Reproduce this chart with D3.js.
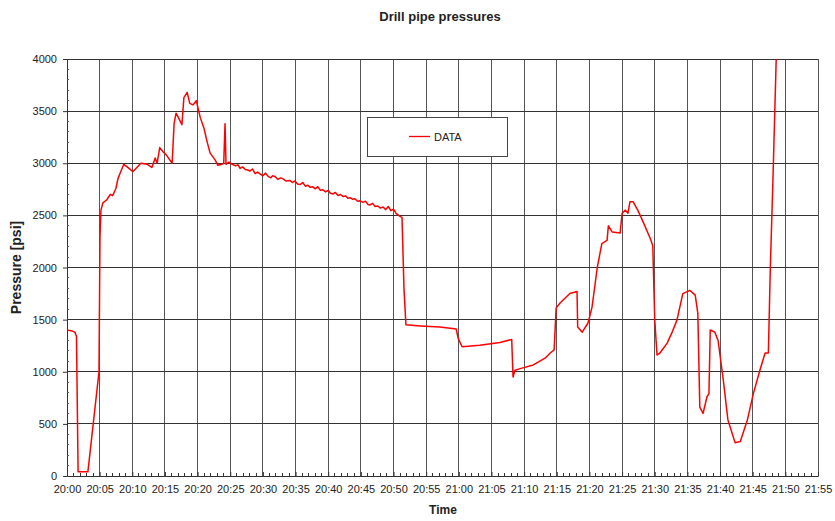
<!DOCTYPE html>
<html>
<head>
<meta charset="utf-8">
<script src="https://cdn.jsdelivr.net/npm/d3@7"></script>
<style>
  body { margin: 0; background: #fff; }
  text { font-family: "Liberation Sans", Arial, sans-serif; fill: #222; }
  .grid-line { stroke: #555; stroke-width: 1; shape-rendering: crispEdges; }
  .grid-h { stroke: #333; }
  .tick-label { font-size: 11px; }
</style>
</head>
<body>
<div id="chart"></div>
<script>
// minutes after 20:00
const minutes = [
  0, 0.8, 1.2, 1.45, 1.7, 3.2, 4.9, 5.05, 5.2, 5.5, 6.1, 6.6, 7.0, 7.5, 7.8, 8.1, 8.7, 9.3, 10.1, 10.7,
  11.3, 12.3, 13.0, 13.5, 13.8, 14.2, 14.7, 15.2, 16.1, 16.4, 16.7, 17.2, 17.6, 17.9, 18.4, 18.8, 19.3, 19.8, 20.1, 20.4,
  21.0, 21.4, 21.9, 22.7, 23.1, 23.7, 24.0, 24.2, 24.35, 24.8, 25.3, 25.8, 26.2, 26.5, 26.9, 27.3, 27.7, 28.0, 28.4, 28.8,
  29.2, 29.6, 30.0, 30.4, 30.8, 31.2, 31.5, 31.9, 32.3, 32.7, 33.1, 33.5, 34.1, 34.5, 34.9, 35.3, 35.7, 36.1, 36.5, 36.9,
  37.2, 37.6, 38.0, 38.4, 38.8, 39.2, 39.6, 40.0, 40.3, 40.7, 41.1, 41.5, 41.9, 42.3, 42.7, 43.0, 43.3, 43.7, 44.1, 44.5,
  44.9, 45.3, 45.7, 46.1, 46.4, 46.8, 47.2, 47.6, 48.0, 48.4, 48.8, 49.2, 49.6, 50.0, 50.4, 51.0, 51.3, 51.6, 51.9, 54.1,
  57.1, 59.6, 59.9, 60.5, 63.2, 66.3, 68.1, 68.3, 68.6, 69.4, 71.4, 73.2, 74.0, 74.6, 74.9, 75.5, 77.0, 78.1, 78.2, 78.9,
  79.8, 80.4, 81.2, 81.9, 82.7, 82.9, 83.5, 84.7, 85.0, 85.5, 85.9, 86.2, 86.7, 87.4, 88.2, 89.3, 89.7, 90.0, 90.35, 90.8,
  91.9, 92.6, 93.4, 94.3, 95.4, 96.2, 96.6, 96.9, 97.4, 98.0, 98.3, 98.5, 99.2, 99.7, 100.5, 101.2, 102.3, 103.1, 104.2, 105.1,
  106.1, 106.9, 107.4, 107.7, 108.1, 108.6
];
const pressure = [
  1400, 1390, 1380, 1340, 40, 40, 1000, 2300, 2550, 2620, 2650, 2700, 2690, 2760, 2850, 2900, 2990, 2960, 2920, 2960,
  3000, 2990, 2960, 3050, 3000, 3150, 3110, 3080, 3000, 3380, 3480, 3420, 3370, 3630, 3680, 3575, 3560, 3600, 3520, 3440,
  3330, 3220, 3100, 3030, 2980, 2990, 3000, 3380, 2990, 3010, 2990, 2975, 2985, 2950, 2965, 2940, 2935, 2925, 2945, 2900,
  2915, 2895, 2880, 2905, 2875, 2860, 2880, 2870, 2845, 2860, 2850, 2830, 2835, 2815, 2830, 2800, 2795, 2815, 2780, 2790,
  2770, 2775, 2755, 2775, 2740, 2745, 2725, 2740, 2715, 2705, 2720, 2690, 2700, 2680, 2685, 2665, 2670, 2655, 2660, 2635,
  2640, 2625, 2635, 2605, 2600, 2615, 2585, 2590, 2570, 2580, 2555, 2585, 2545, 2560, 2520, 2490, 2480, 1800, 1450, 1440,
  1430, 1410, 1320, 1240, 1255, 1280, 1310, 950, 1015, 1030, 1065, 1130, 1180, 1210, 1610, 1660, 1750, 1770, 1430, 1380,
  1470, 1620, 2000, 2230, 2260, 2400, 2340, 2330, 2520, 2550, 2520, 2630, 2630, 2550, 2440, 2280, 2210, 1500, 1160, 1180,
  1275, 1370, 1495, 1750, 1780, 1735, 1560, 660, 600, 760, 790, 1400, 1380, 1300, 920, 540, 320, 330, 540, 790,
  1015, 1180, 1180, 2000, 2840, 4000
];
const timeTicks = [
  '20:00', '20:05', '20:10', '20:15', '20:20', '20:25', '20:30', '20:35', '20:40', '20:45', '20:50', '20:55',
  '21:00', '21:05', '21:10', '21:15', '21:20', '21:25', '21:30', '21:35', '21:40', '21:45', '21:50', '21:55'
];
const pressureTicks = [0, 500, 1000, 1500, 2000, 2500, 3000, 3500, 4000];

const W = 835, H = 521;
const margin = { top: 59, right: 17, bottom: 45, left: 67 };
const width = W - margin.left - margin.right,
  height = H - margin.top - margin.bottom;

const svg = d3.select('#chart').append('svg')
  .attr('width', W)
  .attr('height', H);

const g = svg.append('g')
  .attr('transform', 'translate(' + margin.left + ',' + margin.top + ')');

const x = d3.scaleLinear().domain([0, 115]).range([0, width]);
const y = d3.scaleLinear().domain([0, 4000]).range([height, 0]);

const tickMinutes = timeTicks.map((d, i) => i * 5);

// plot border
g.append('rect')
  .attr('width', width).attr('height', height)
  .attr('fill', 'none').attr('stroke', '#bbb')
  .attr('shape-rendering', 'crispEdges');

// grid
g.append('g').selectAll('line')
  .data(tickMinutes.slice(1))
  .enter().append('line')
  .attr('class', 'grid-line')
  .attr('x1', d => x(d)).attr('x2', d => x(d))
  .attr('y1', 0).attr('y2', height);

g.append('g').selectAll('line')
  .data(pressureTicks.slice(1))
  .enter().append('line')
  .attr('class', 'grid-line grid-h')
  .attr('x1', 0).attr('x2', width)
  .attr('y1', d => y(d)).attr('y2', d => y(d));

// axes
const xAxis = d3.axisBottom(x)
  .tickValues(tickMinutes)
  .tickFormat((d, i) => timeTicks[i])
  .tickSizeInner(-4).tickSizeOuter(0).tickPadding(9);

const xAxisG = g.append('g')
  .attr('transform', 'translate(0,' + height + ')')
  .call(xAxis);
xAxisG.selectAll('text').attr('class', 'tick-label');

g.append('g')
  .attr('transform', 'translate(0,' + height + ')')
  .selectAll('line')
  .data(d3.range(0, 116).filter(d => d % 5 !== 0))
  .enter().append('line')
  .attr('x1', d => x(d)).attr('x2', d => x(d))
  .attr('y1', 0).attr('y2', -3)
  .attr('stroke', '#333')
  .attr('shape-rendering', 'crispEdges');

const yAxis = d3.axisLeft(y)
  .tickValues(pressureTicks)
  .tickFormat(d3.format('d'))
  .tickSizeInner(4).tickSizeOuter(0).tickPadding(6);

const yAxisG = g.append('g').call(yAxis);
yAxisG.selectAll('text').attr('class', 'tick-label');

g.append('g').selectAll('line')
  .data(d3.range(0, 4001, 100).filter(d => d % 500 !== 0))
  .enter().append('line')
  .attr('x1', 0).attr('x2', 2)
  .attr('y1', d => y(d)).attr('y2', d => y(d))
  .attr('stroke', '#555')
  .attr('shape-rendering', 'crispEdges');

g.selectAll('.domain').attr('stroke', '#333');
g.selectAll('.tick line').attr('stroke', '#333');

// data line
const points = minutes.map((m, i) => ({ m: m, p: pressure[i] }));
const line = d3.line()
  .x(d => x(d.m))
  .y(d => y(d.p));

g.append('path')
  .datum(points)
  .attr('d', line)
  .attr('fill', 'none')
  .attr('stroke', '#ff0000')
  .attr('stroke-width', 1.5)
  .attr('stroke-linejoin', 'round');

// legend
const legend = svg.append('g').attr('transform', 'translate(367,117)');
legend.append('rect')
  .attr('width', 140).attr('height', 39)
  .attr('fill', '#fff').attr('stroke', '#444')
  .attr('shape-rendering', 'crispEdges');
legend.append('line')
  .attr('x1', 42).attr('x2', 63)
  .attr('y1', 19.5).attr('y2', 19.5)
  .attr('stroke', '#ff0000').attr('stroke-width', 1.3);
legend.append('text')
  .attr('x', 67).attr('y', 23.5)
  .style('font-size', '11px')
  .text('DATA');

// titles
svg.append('text')
  .attr('x', 440).attr('y', 21)
  .attr('text-anchor', 'middle')
  .style('font-size', '13px').style('font-weight', 'bold')
  .text('Drill pipe pressures');

svg.append('text')
  .attr('x', 443).attr('y', 514)
  .attr('text-anchor', 'middle')
  .style('font-size', '12px').style('font-weight', 'bold')
  .text('Time');

svg.append('text')
  .attr('transform', 'translate(21,' + (margin.top + height / 2) + ') rotate(-90)')
  .attr('text-anchor', 'middle')
  .style('font-size', '14px').style('font-weight', 'bold')
  .text('Pressure [psi]');
</script>
</body>
</html>
